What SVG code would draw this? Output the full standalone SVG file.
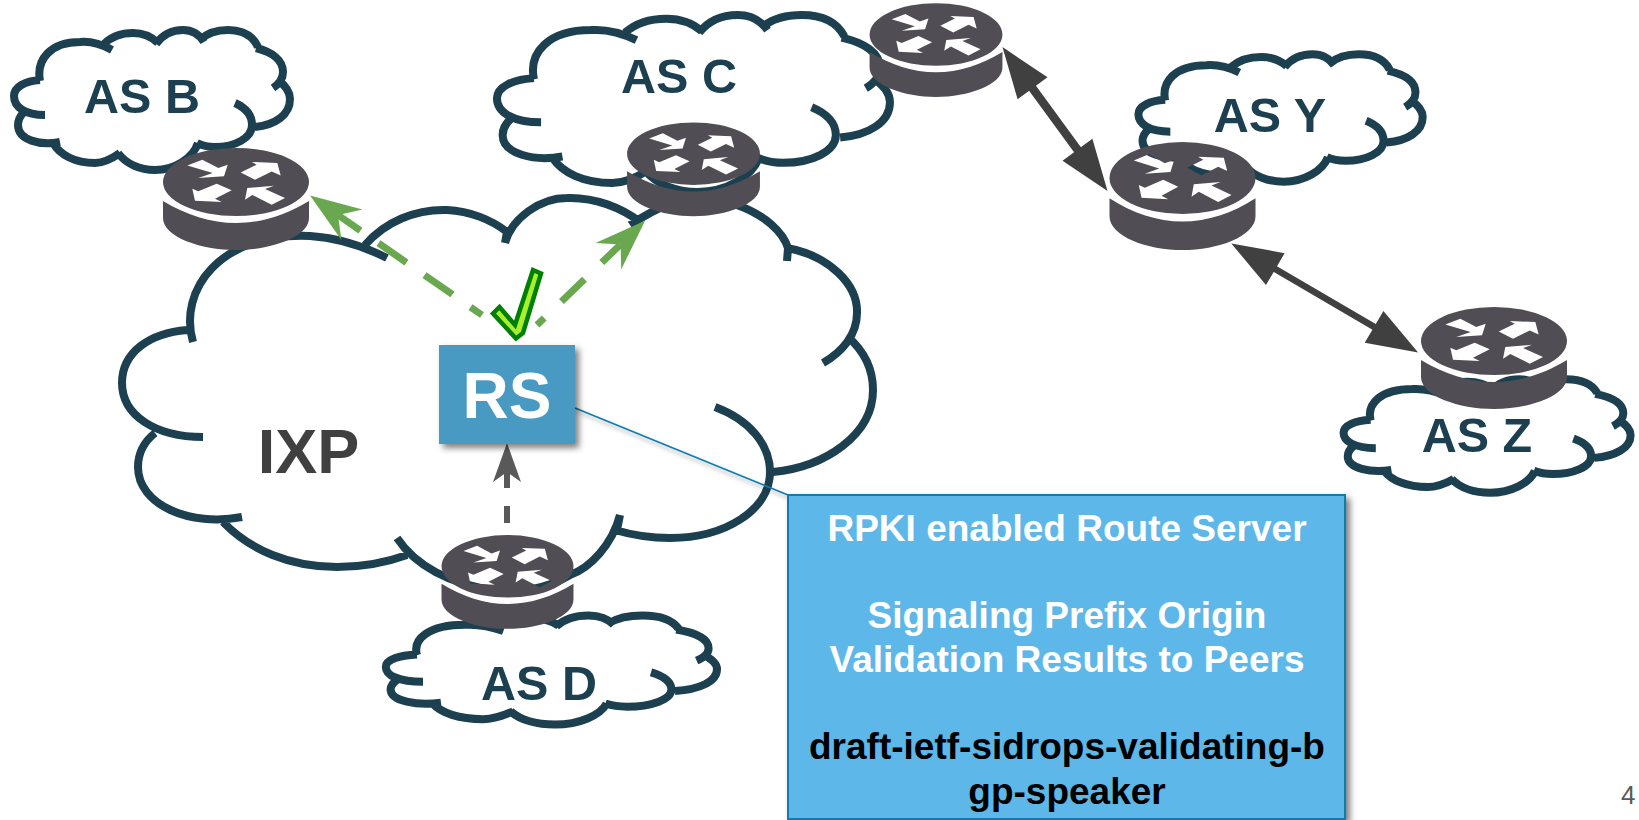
<svg xmlns="http://www.w3.org/2000/svg" width="1639" height="820" viewBox="0 0 1639 820">
<style>
.lbl{font-family:"Liberation Sans",Arial,sans-serif;font-weight:700;text-anchor:middle}
.as{font-size:48.5px;fill:#1c4050}
.cs{fill:none;stroke:#1c4050;stroke-width:8;vector-effect:non-scaling-stroke}
.cf{fill:#fff;stroke:none}
.rt{fill:#504e54;fill-rule:evenodd}
.call{font-size:37px;fill:#fff}
</style>
<defs>
<filter id="sh" x="-20%" y="-20%" width="150%" height="150%"><feDropShadow dx="4" dy="4" stdDeviation="3" flood-color="#000" flood-opacity=".5"/></filter>
<filter id="shl" x="-5%" y="-5%" width="110%" height="130%"><feDropShadow dx="1" dy="3" stdDeviation="2" flood-color="#000" flood-opacity=".35"/></filter>
<marker id="hg" markerUnits="userSpaceOnUse" markerWidth="60" markerHeight="44" viewBox="-55 -22 60 44" refX="-34" refY="0" orient="auto"><path d="M0,0L-51,18.5L-34,0L-51,-18.5Z" fill="#6aa84f"/></marker>
<marker id="hk" markerUnits="userSpaceOnUse" markerWidth="60" markerHeight="44" viewBox="-55 -22 60 44" refX="-46" refY="0" orient="auto-start-reverse"><path d="M0,0L-51,18.5L-51,-18.5Z" fill="#404040"/></marker>
<marker id="hs" markerUnits="userSpaceOnUse" markerWidth="44" markerHeight="32" viewBox="-42 -16 44 32" refX="-29" refY="0" orient="auto"><path d="M0,0L-39,14L-29,0L-39,-14Z" fill="#595959"/></marker>
<g id="cloud">
<path class="cf" d="M40,80C36,60 50,42 80,42C92,41 98,43 104,44C112,36 122,33 133,33C143,33 150,37 156,44C163,34 172,30 183,30C192,30 197,34 200,40C208,32 218,30 228,30C243,30 253,36 256,48C272,52 283,60 283,72C283,74 282,76 278,80C286,86 290,92 290,99C290,115 275,125 252,125C252,138 235,147 215,147C208,147 203,146 198,143C193,158 175,170 155,170C140,170 126,164 120,153C110,160 102,163 95,163C75,163 60,155 58,142C40,146 18,140 18,125C18,120 20,116 24,112C20,110 14,107 14,96C14,87 25,81 40,80Z"/>
<path class="cs" d="M40,81C36,60 50,42 80,42C92,41 103,45 112,50M104,44C112,36 122,33 133,33C143,33 152,37 158,43M156,44C163,34 172,30 183,30C192,30 199,34 204,42M200,40C208,32 218,30 228,30C243,30 253,36 258,47M256,48C272,52 283,60 283,72C283,78 279,84 273,88M278,80C286,86 290,92 290,99C290,115 275,125 255,127M235,103C246,108 252,116 252,125C252,138 235,147 215,147C208,147 203,146 197,143M198,143C193,158 175,170 155,170C140,170 126,164 118,153M120,153C110,160 102,163 95,163C75,163 60,155 53,143M60,142C40,146 18,140 18,125C18,120 20,116 24,112M45,115C25,115 14,107 14,96C14,87 25,81 40,80"/>
</g>
<g id="router">
<path class="rt" d="M-73,0A73,34 0 1 1 73,0A73,34 0 1 1 -73,0ZM-48.7,-16.6L-33.7,-22.3L-17.7,-14L-8.3,-17.3L-12,-5.7L-37.7,-4L-23.3,-9ZM4.7,-9.6L20.7,-17.3L15.7,-20L41.3,-19L44.7,-6.6L35.7,-10.6L19,-2.3ZM-43.7,6.7L-37.7,9.3L-19.3,1.7L-4.3,8.3L-21,16.7L-14.3,20L-41,18.7ZM9,17.7L11.3,6L38,3.7L29,7L49,16L35.7,22.7L16.3,13Z"/>
<path class="rt" d="M-73,19C-50,33 -25,41 0,41C25,41 50,33 73,19L73,36C73,55 35,68 0,68C-35,68 -73,55 -73,36Z"/>
</g>
</defs>
<rect width="1639" height="820" fill="#fff"/>

<g id="as-b"><use href="#cloud"/><text class="lbl as" x="142" y="112.5">AS B</text></g>
<g id="as-c"><use href="#cloud" transform="translate(477,-23) scale(1.424,1.264)"/><text class="lbl as" x="679" y="93">AS C</text></g>
<g id="as-y"><use href="#cloud" transform="translate(1124,27) scale(1.03,.91)"/><text class="lbl as" x="1270" y="132">AS Y</text></g>
<g id="as-z"><use href="#cloud" transform="translate(1329,355) scale(1.04,.81)"/><text class="lbl as" x="1477" y="452">AS Z</text></g>
<g id="as-d"><use href="#cloud" transform="translate(369,592) scale(1.2,.78)"/><text class="lbl as" x="539" y="700">AS D</text></g>

<g id="ixp">
<path class="cf" d="M193,342C178,290 220,232 310,236C335,238 350,240 365,245C385,222 415,209 447,210C470,211 492,220 505,235C512,218 540,198 567,198C595,197 622,208 630,225C660,205 690,195 700,195C765,215 783,232 788,248C830,256 858,285 857,313C857,325 852,332 848,337C865,352 873,370 873,390C873,435 825,467 770,472C770,510 725,538 670,538C650,538 632,535 617,530C612,545 590,568 570,575C545,590 520,592 495,590C450,585 425,570 407,555C385,563 360,567 337,567C290,567 250,550 223,522C190,527 138,505 138,467C138,453 145,441 155,433C122,415 122,383 122,383C122,352 150,333 187,330Z"/>
<path class="cs" d="M193,342C178,290 220,232 310,236C340,238 365,247 387,258M365,245C385,222 415,209 447,210C470,211 492,220 507,232L505,243M505,243C512,218 540,198 567,198C595,197 622,208 640,222M630,225C660,205 690,195 700,195C720,195 730,200 737,205C765,215 783,232 788,248L787,261M787,248C830,256 858,285 857,313C857,335 842,352 823,363M848,337C865,352 873,370 873,390C873,435 825,467 773,472M715,407C750,420 770,445 770,472C770,510 725,538 670,538C650,538 632,535 615,530M620,515L617,530M620,515C612,545 590,568 570,575C545,590 520,592 495,590C450,585 415,565 397,538M407,555C385,563 360,567 337,567C290,567 250,550 223,522M242,517C190,527 138,505 138,467C138,453 145,441 155,433M203,437C155,437 122,415 122,383C122,352 150,333 187,330"/>
</g>

<g id="connectors" fill="none">
<path d="M575,408L788,495" stroke="#0b7bb0" stroke-width="1.6" filter="url(#shl)"/>
<path d="M482,315L338,215" stroke="#6aa84f" stroke-width="7" stroke-dasharray="34 22" stroke-dashoffset="20" marker-end="url(#hg)"/>
<path d="M537,325L620.6,244.4" stroke="#6aa84f" stroke-width="7" stroke-dasharray="32 24" stroke-dashoffset="22" marker-end="url(#hg)"/>
<path d="M507,523L507,472" stroke="#595959" stroke-width="6" stroke-dasharray="17 18" marker-end="url(#hs)"/>
<path d="M1029.6,84.2L1080.4,153.8" stroke="#404040" stroke-width="8.5" marker-start="url(#hk)" marker-end="url(#hk)"/>
<path d="M1271,266.6L1378.4,329.4" stroke="#404040" stroke-width="6.5" marker-start="url(#hk)" marker-end="url(#hk)"/>
</g>

<g id="router-b"><use href="#router" transform="translate(236,182)"/></g>
<g id="router-c"><use href="#router" transform="translate(693.5,153.7) scale(.91,.92)"/></g>
<g id="router-c2"><use href="#router" transform="translate(936,34.5) scale(.91,.92)"/></g>
<g id="router-y"><use href="#router" transform="translate(1182.5,178) scale(1,1.06)"/></g>
<g id="router-z"><use href="#router" transform="translate(1494,341)"/></g>
<g id="router-d"><use href="#router" transform="translate(507.5,566.3) scale(.904,.92)"/></g>

<text class="lbl" x="308.5" y="472.5" font-size="63" fill="#404040">IXP</text>

<g id="rs"><rect x="439" y="345" width="136" height="99" fill="#4a9ac3" filter="url(#sh)"/><text class="lbl" x="507" y="418" font-size="64" fill="#fff">RS</text></g>
<path id="check" d="M533,270L541,273.5L523,333L516,338.5L493,313.5L499.5,307L515,325Z" fill="#a8f02e" stroke="#008000" stroke-width="4.5"/>

<g id="callout">
<rect x="788" y="495" width="557" height="324" fill="#5db7e8" stroke="#0b7bb0" stroke-width="2" filter="url(#sh)"/>
<text class="lbl call" x="1067" y="541">RPKI enabled Route Server</text>
<text class="lbl call" x="1067" y="628">Signaling Prefix Origin</text>
<text class="lbl call" x="1067" y="672">Validation Results to Peers</text>
<text class="lbl call" x="1067" y="759" style="fill:#000">draft-ietf-sidrops-validating-b</text>
<text class="lbl call" x="1067" y="804" style="fill:#000">gp-speaker</text>
</g>
<text x="1621" y="804" font-family="'Liberation Sans',Arial,sans-serif" font-size="26" fill="#595959">4</text>
</svg>
